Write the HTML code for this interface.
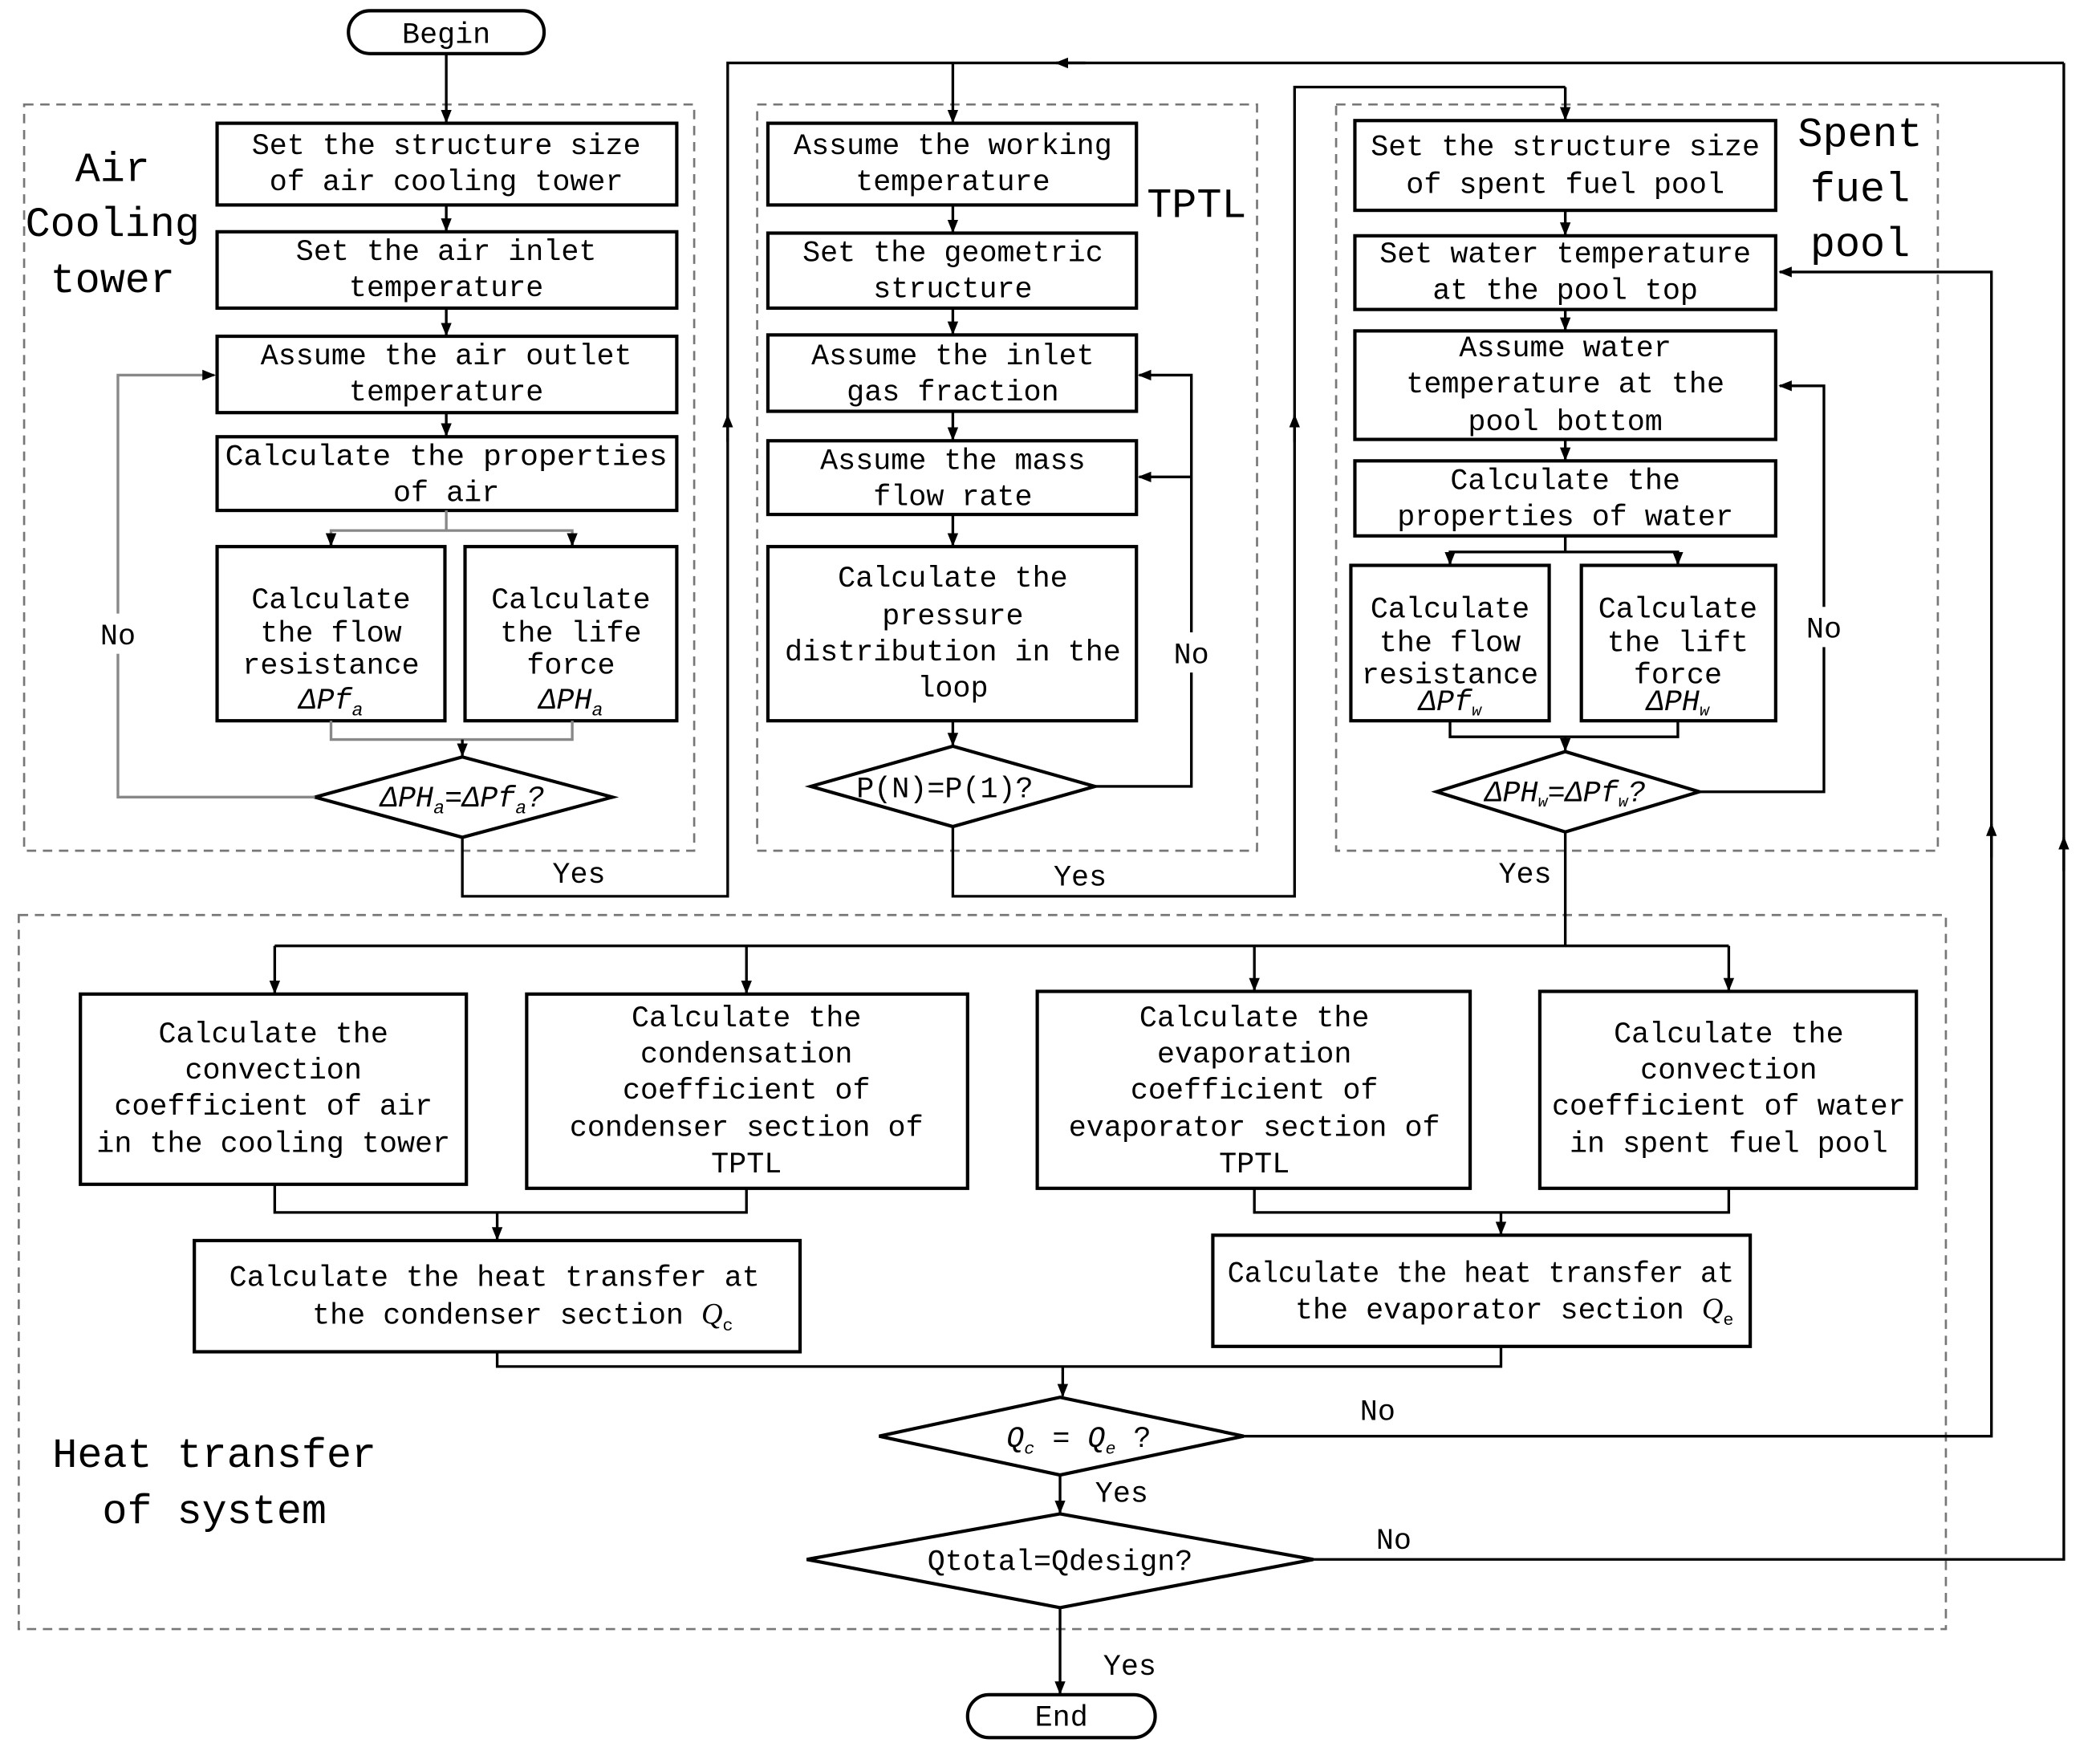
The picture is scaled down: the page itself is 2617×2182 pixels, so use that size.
<!DOCTYPE html>
<html><head><meta charset="utf-8"><style>
html,body{margin:0;padding:0;background:#fff}
svg{display:block}
text{font-family:"Liberation Mono","Noto Sans CJK SC",monospace;font-size:22px;fill:#000;text-anchor:middle}
.b{fill:#fff;stroke:#000;stroke-width:2.5}
.d{fill:none;stroke:#777;stroke-width:1.6;stroke-dasharray:7 5}
.l{fill:none;stroke:#000;stroke-width:2}
.g{fill:none;stroke:#888;stroke-width:2}
.lab{font-size:31px}
</style></head><body>
<svg width="2617" height="2182" viewBox="0 0 1567 1307" preserveAspectRatio="none" xmlns="http://www.w3.org/2000/svg">
<defs>
<marker id="a" markerWidth="10" markerHeight="10" refX="9" refY="5" orient="auto" markerUnits="userSpaceOnUse"><path d="M0,1 L10,5 L0,9z" fill="#000"/></marker>
</defs>
<rect class="d" x="18" y="78" width="500" height="557"/>
<rect class="d" x="565" y="78" width="373" height="557"/>
<rect class="d" x="997" y="78" width="449" height="557"/>
<rect class="d" x="14" y="683" width="1438" height="533"/>

<rect class="b" x="260" y="8" width="146" height="32" rx="16"/>
<text x="333" y="32">Begin</text>
<line class="l" x1="333" y1="40" x2="333" y2="91" marker-end="url(#a)"/>

<text class="lab" x="84" y="135">Air</text><text class="lab" x="84" y="176">Cooling</text><text class="lab" x="84" y="218">tower</text>
<rect class="b" x="162" y="92" width="343" height="61"/><text x="333" y="115">Set the structure size</text><text x="333" y="142">of air cooling tower</text>
<line class="l" x1="333" y1="153" x2="333" y2="172" marker-end="url(#a)"/>
<rect class="b" x="162" y="173" width="343" height="57"/><text x="333" y="194">Set the air inlet</text><text x="333" y="221">temperature</text>
<line class="l" x1="333" y1="230" x2="333" y2="250" marker-end="url(#a)"/>
<rect class="b" x="162" y="251" width="343" height="57"/><text x="333" y="272">Assume the air outlet</text><text x="333" y="299">temperature</text>
<line class="l" x1="333" y1="308" x2="333" y2="325" marker-end="url(#a)"/>
<rect class="b" x="162" y="326" width="343" height="55"/><text x="333" y="347" textLength="330" lengthAdjust="spacingAndGlyphs">Calculate the properties</text><text x="333" y="374">of air</text>
<polyline class="g" points="333,381 333,396"/><polyline class="g" points="247,407 247,396 427,396 427,407"/>
<line class="l" x1="247" y1="400" x2="247" y2="407" marker-end="url(#a)"/><line class="l" x1="427" y1="400" x2="427" y2="407" marker-end="url(#a)"/>
<rect class="b" x="162" y="408" width="170" height="130"/><text x="247" y="454">Calculate</text><text x="247" y="479">the flow</text><text x="247" y="503">resistance</text><text x="247" y="529" font-style="italic" font-family="Liberation Serif">ΔPf<tspan font-size="14" dy="5">a</tspan></text>
<rect class="b" x="347" y="408" width="158" height="130"/><text x="426" y="454">Calculate</text><text x="426" y="479">the life</text><text x="426" y="503">force</text><text x="426" y="529" font-style="italic" font-family="Liberation Serif">ΔPH<tspan font-size="14" dy="5">a</tspan></text>
<polyline class="g" points="247,538 247,552 427,552 427,538"/>
<line class="l" x1="345" y1="552" x2="345" y2="564" marker-end="url(#a)"/>
<polygon class="b" points="235,595 345,565 457,595 345,625"/>
<text x="345" y="602" font-style="italic" font-family="Liberation Serif">ΔPH<tspan font-size="14" dy="5">a</tspan><tspan dy="-5">=ΔPf</tspan><tspan font-size="14" dy="5">a</tspan><tspan dy="-5">?</tspan></text>
<polyline class="g" points="235,595 88,595 88,280 160,280" marker-end="url(#a)"/>
<rect x="70" y="458" width="36" height="30" fill="#fff"/><text x="88" y="481">No</text>
<polyline class="l" points="345,625 345,669 543,669 543,47 1540,47"/>
<line class="l" x1="543" y1="330" x2="543" y2="310" marker-end="url(#a)"/>
<line class="l" x1="810" y1="47" x2="788" y2="47" marker-end="url(#a)"/>
<text x="432" y="659">Yes</text>

<line class="l" x1="711" y1="47" x2="711" y2="91" marker-end="url(#a)"/>
<text class="lab" x="893" y="162" font-size="29">TPTL</text>
<rect class="b" x="573" y="92" width="275" height="61"/><text x="711" y="115">Assume the working</text><text x="711" y="142">temperature</text>
<line class="l" x1="711" y1="153" x2="711" y2="173" marker-end="url(#a)"/>
<rect class="b" x="573" y="174" width="275" height="56"/><text x="711" y="195">Set the geometric</text><text x="711" y="222">structure</text>
<line class="l" x1="711" y1="230" x2="711" y2="249" marker-end="url(#a)"/>
<rect class="b" x="573" y="250" width="275" height="57"/><text x="711" y="272">Assume the inlet</text><text x="711" y="299">gas fraction</text>
<line class="l" x1="711" y1="307" x2="711" y2="328" marker-end="url(#a)"/>
<rect class="b" x="573" y="329" width="275" height="55"/><text x="711" y="350">Assume the mass</text><text x="711" y="377">flow rate</text>
<line class="l" x1="711" y1="384" x2="711" y2="407" marker-end="url(#a)"/>
<rect class="b" x="573" y="408" width="275" height="130"/><text x="711" y="438">Calculate the</text><text x="711" y="466">pressure</text><text x="711" y="493">distribution in the</text><text x="711" y="520">loop</text>
<line class="l" x1="711" y1="538" x2="711" y2="556" marker-end="url(#a)"/>
<polygon class="b" points="605,587 711,557 817,587 711,617"/>
<text x="705" y="595">P(N)=P(1)?</text>
<polyline class="l" points="817,587 889,587 889,280 850,280" marker-end="url(#a)"/>
<line class="l" x1="889" y1="356" x2="850" y2="356" marker-end="url(#a)"/>
<rect x="871" y="472" width="36" height="30" fill="#fff"/><text x="889" y="495">No</text>
<polyline class="l" points="711,617 711,669 966,669 966,65 1168,65"/>
<line class="l" x1="966" y1="330" x2="966" y2="310" marker-end="url(#a)"/>
<line class="l" x1="1168" y1="65" x2="1168" y2="89" marker-end="url(#a)"/>
<text x="806" y="661">Yes</text>

<text class="lab" x="1388" y="109">Spent</text><text class="lab" x="1388" y="150">fuel</text><text class="lab" x="1388" y="191">pool</text>
<rect class="b" x="1011" y="90" width="314" height="67"/><text x="1168" y="116">Set the structure size</text><text x="1168" y="144">of spent fuel pool</text>
<line class="l" x1="1168" y1="157" x2="1168" y2="175" marker-end="url(#a)"/>
<rect class="b" x="1011" y="176" width="314" height="55"/><text x="1168" y="196">Set water temperature</text><text x="1168" y="223">at the pool top</text>
<line class="l" x1="1168" y1="231" x2="1168" y2="246" marker-end="url(#a)"/>
<rect class="b" x="1011" y="247" width="314" height="81"/><text x="1168" y="266">Assume water</text><text x="1168" y="293">temperature at the</text><text x="1168" y="321">pool bottom</text>
<line class="l" x1="1168" y1="328" x2="1168" y2="343" marker-end="url(#a)"/>
<rect class="b" x="1011" y="344" width="314" height="56"/><text x="1168" y="365">Calculate the</text><text x="1168" y="392">properties of water</text>
<polyline class="l" points="1168,400 1168,412 1082,412 1082,420"/><polyline class="l" points="1168,412 1252,412 1252,420"/>
<line class="l" x1="1082" y1="414" x2="1082" y2="421" marker-end="url(#a)"/><line class="l" x1="1252" y1="414" x2="1252" y2="421" marker-end="url(#a)"/>
<rect class="b" x="1008" y="422" width="148" height="116"/><text x="1082" y="461">Calculate</text><text x="1082" y="486">the flow</text><text x="1082" y="510">resistance</text><text x="1082" y="530" font-size="18" font-style="italic" font-family="Liberation Serif">ΔPf<tspan font-size="12" dy="4">w</tspan></text>
<rect class="b" x="1180" y="422" width="145" height="116"/><text x="1252" y="461">Calculate</text><text x="1252" y="486">the lift</text><text x="1252" y="510">force</text><text x="1252" y="530" font-size="18" font-style="italic" font-family="Liberation Serif">ΔPH<tspan font-size="12" dy="4">w</tspan></text>
<polyline class="l" points="1082,538 1082,550 1252,550 1252,538"/>
<line class="l" x1="1168" y1="550" x2="1168" y2="560" marker-end="url(#a)"/>
<polygon class="b" points="1072,591 1168,561 1268,591 1168,621"/>
<text x="1168" y="598" font-size="20" font-style="italic" font-family="Liberation Serif">ΔPH<tspan font-size="12" dy="4">w</tspan><tspan dy="-4">=ΔPf</tspan><tspan font-size="12" dy="4">w</tspan><tspan dy="-4">?</tspan></text>
<polyline class="l" points="1268,591 1361,591 1361,288 1328,288" marker-end="url(#a)"/>
<rect x="1343" y="453" width="36" height="30" fill="#fff"/><text x="1361" y="476">No</text>
<text x="1138" y="659">Yes</text>

<text class="lab" x="160" y="1095" font-size="29">Heat transfer</text><text class="lab" x="160" y="1137" font-size="29">of system</text>
<polyline class="l" points="1168,621 1168,706"/>
<polyline class="l" points="205,706 1290,706"/>
<line class="l" x1="205" y1="706" x2="205" y2="741" marker-end="url(#a)"/>
<line class="l" x1="557" y1="706" x2="557" y2="741" marker-end="url(#a)"/>
<line class="l" x1="936" y1="706" x2="936" y2="739" marker-end="url(#a)"/>
<line class="l" x1="1290" y1="706" x2="1290" y2="739" marker-end="url(#a)"/>
<rect class="b" x="60" y="742" width="288" height="142"/><text x="204" y="778">Calculate the</text><text x="204" y="805">convection</text><text x="204" y="832">coefficient of air</text><text x="204" y="860">in the cooling tower</text>
<rect class="b" x="393" y="742" width="329" height="145"/><text x="557" y="766">Calculate the</text><text x="557" y="793">condensation</text><text x="557" y="820">coefficient of</text><text x="557" y="848">condenser section of</text><text x="557" y="875">TPTL</text>
<rect class="b" x="774" y="740" width="323" height="147"/><text x="936" y="766">Calculate the</text><text x="936" y="793">evaporation</text><text x="936" y="820">coefficient of</text><text x="936" y="848">evaporator section of</text><text x="936" y="875">TPTL</text>
<rect class="b" x="1149" y="740" width="281" height="147"/><text x="1290" y="778">Calculate the</text><text x="1290" y="805">convection</text><text x="1290" y="832">coefficient of water</text><text x="1290" y="860">in spent fuel pool</text>
<polyline class="l" points="205,884 205,905 557,905 557,887" stroke-width="1.4"/>
<line class="l" x1="371" y1="905" x2="371" y2="925" marker-end="url(#a)"/>
<polyline class="l" points="936,887 936,905 1290,905 1290,887" stroke-width="1.4"/>
<line class="l" x1="1120" y1="905" x2="1120" y2="921" marker-end="url(#a)"/>
<rect class="b" x="145" y="926" width="452" height="83"/><text x="369" y="960">Calculate the  heat transfer at</text><text x="390" y="988">the condenser section <tspan font-style="italic" font-family="Liberation Serif">Q</tspan><tspan font-size="13" dy="5">c</tspan></text>
<rect class="b" x="905" y="922" width="401" height="83"/><text x="1105" y="957" textLength="378" lengthAdjust="spacingAndGlyphs">Calculate the heat transfer at</text><text x="1130" y="984">the evaporator section <tspan font-style="italic" font-family="Liberation Serif">Q</tspan><tspan font-size="13" dy="5">e</tspan></text>
<polyline class="l" points="371,1009 371,1020 1120,1020 1120,1005" stroke-width="1.4"/>
<line class="l" x1="793" y1="1020" x2="793" y2="1042" marker-end="url(#a)"/>
<polygon class="b" points="656,1072 791,1043 928,1072 791,1101"/>
<text x="805" y="1080" font-style="italic" font-family="Liberation Serif">Q<tspan font-size="13" dy="5">c</tspan><tspan dy="-5"> = Q</tspan><tspan font-size="13" dy="5">e</tspan><tspan dy="-5" font-style="normal"> ?</tspan></text>
<polyline class="l" points="928,1072 1486,1072 1486,203 1328,203" marker-end="url(#a)"/>
<line class="l" x1="1486" y1="640" x2="1486" y2="615" marker-end="url(#a)"/>
<text x="1028" y="1060">No</text>
<line class="l" x1="791" y1="1101" x2="791" y2="1129" marker-end="url(#a)"/>
<text x="837" y="1121">Yes</text>
<polygon class="b" points="602,1164 791,1130 980,1164 791,1200"/>
<text x="791" y="1172">Qtotal=Qdesign?</text>
<polyline class="l" points="980,1164 1540,1164 1540,47"/>
<line class="l" x1="1540" y1="650" x2="1540" y2="625" marker-end="url(#a)"/>
<text x="1040" y="1156">No</text>
<line class="l" x1="791" y1="1200" x2="791" y2="1264" marker-end="url(#a)"/>
<text x="843" y="1250">Yes</text>
<rect class="b" x="722" y="1265" width="140" height="32" rx="16"/>
<text x="792" y="1288">End</text>
</svg>
</body></html>
